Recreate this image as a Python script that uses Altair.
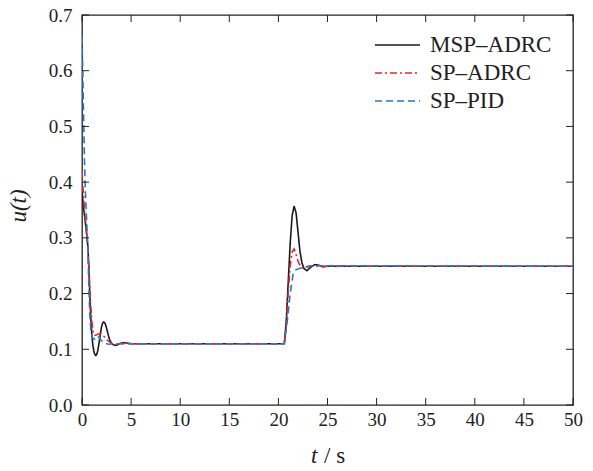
import altair as alt
import pandas as pd

# ---------------- data ----------------
methods = ["MSP–ADRC", "SP–ADRC", "SP–PID"]

t_msp = [0, 0.15, 0.3, 0.45, 0.6, 0.7, 0.8, 0.9, 1.0, 1.1, 1.2, 1.3, 1.4, 1.5, 1.6, 1.7,
         1.8, 1.9, 2.0, 2.1, 2.2, 2.3, 2.4, 2.5, 2.6, 2.7, 2.8, 3.0, 3.2, 3.4, 3.6, 3.8,
         4.0, 4.3, 4.6, 5.0, 5.5, 20.6, 20.8, 21.0, 21.2, 21.4, 21.6, 21.8, 22.0, 22.2,
         22.4, 22.6, 22.9, 23.2, 23.7, 24.1, 24.5, 25.0, 50]
u_msp = [0.385, 0.355, 0.335, 0.31, 0.285, 0.245, 0.195, 0.155, 0.127, 0.108, 0.097, 0.091,
         0.089, 0.091, 0.097, 0.107, 0.119, 0.131, 0.141, 0.147, 0.149, 0.148, 0.144, 0.138,
         0.131, 0.124, 0.118, 0.111, 0.108, 0.107, 0.108, 0.110, 0.111, 0.112, 0.111, 0.110,
         0.110, 0.110, 0.15, 0.22, 0.29, 0.34, 0.357, 0.345, 0.31, 0.275, 0.255, 0.245,
         0.241, 0.246, 0.252, 0.251, 0.248, 0.249, 0.249]

t_spadrc = [0, 0.1, 0.3, 0.5, 0.7, 0.85, 1.0, 1.15, 1.3, 1.5, 1.8, 2.0, 2.3, 2.6, 3.0, 3.5,
            4.0, 4.5, 5.0, 20.6, 20.8, 21.0, 21.2, 21.4, 21.6, 21.8, 22.0, 22.3, 22.6, 23.0,
            23.5, 24.0, 50]
u_spadrc = [0.42, 0.39, 0.34, 0.305, 0.25, 0.19, 0.15, 0.13, 0.125, 0.126, 0.128, 0.127,
            0.122, 0.116, 0.111, 0.109, 0.110, 0.111, 0.110, 0.110, 0.14, 0.20, 0.25, 0.275,
            0.28, 0.27, 0.258, 0.247, 0.245, 0.248, 0.250, 0.249, 0.249]

t_sppid = [0, 0.08, 0.15, 0.25, 0.35, 0.5, 0.6, 0.7, 0.8, 0.9, 1.0, 1.1, 1.3, 1.5, 1.7,
           2.0, 2.3, 2.7, 3.2, 4.0, 20.6, 20.9, 21.2, 21.5, 21.8, 22.3, 22.8, 23.3, 50]
u_sppid = [0.66, 0.60, 0.53, 0.44, 0.38, 0.32, 0.28, 0.21, 0.16, 0.135, 0.125, 0.12, 0.118,
           0.123, 0.122, 0.115, 0.111, 0.109, 0.110, 0.110, 0.110, 0.15, 0.20, 0.235, 0.243,
           0.246, 0.248, 0.250, 0.249]

x_ticks = [0, 5, 10, 15, 20, 25, 30, 35, 40, 45, 50]
y_ticks = [0.0, 0.1, 0.2, 0.3, 0.4, 0.5, 0.6, 0.7]

colors = ["#1a1a1a", "#e8262a", "#2679c2"]
dashes = [[1, 0], [7, 3, 2, 3], [7, 4]]

# ---------------- build table ----------------
rows = []
for m, ts, us in zip(methods, [t_msp, t_spadrc, t_sppid], [u_msp, u_spadrc, u_sppid]):
    for t, u in zip(ts, us):
        rows.append({"t": t, "u": u, "method": m})
df = pd.DataFrame(rows)

W, H = 491, 390
FONT = "Liberation Serif"
x_scale = alt.Scale(domain=[0, 50], nice=False, zero=False)
y_scale = alt.Scale(domain=[0, 0.7], nice=False)

x_axis = alt.Axis(values=x_ticks, title=None, tickSize=0, domain=False, grid=False,
                  labelFont=FONT, labelFontSize=19, labelColor="#222",
                  labelPadding=5, labelFlush=False)
y_axis = alt.Axis(values=y_ticks, format=".1f", title=None, tickSize=0, domain=False,
                  grid=False, labelFont=FONT, labelFontSize=19, labelColor="#222",
                  labelPadding=10)

leg = alt.Legend(
    title=None, orient="none", legendX=292, legendY=16, padding=0,
    labelFont=FONT, labelFontSize=23, labelColor="#222", labelOffset=9,
    symbolType="stroke", symbolSize=2025, symbolStrokeWidth=1.6,
    clipHeight=28, rowPadding=0,
)

lines = alt.Chart(df).mark_line(strokeWidth=1.6, clip=True).encode(
    x=alt.X("t:Q", scale=x_scale, axis=x_axis),
    y=alt.Y("u:Q", scale=y_scale, axis=y_axis),
    color=alt.Color("method:N", scale=alt.Scale(domain=methods, range=colors), legend=leg),
    strokeDash=alt.StrokeDash("method:N", scale=alt.Scale(domain=methods, range=dashes), legend=leg),
)

xt = pd.DataFrame({"t": x_ticks})
yt = pd.DataFrame({"u": y_ticks})
tick_col = "#222"
bottom_ticks = alt.Chart(xt).mark_rule(color=tick_col, strokeWidth=1).encode(
    x=alt.X("t:Q", scale=x_scale, axis=x_axis), y=alt.value(H), y2=alt.value(H - 7))
top_ticks = alt.Chart(xt).mark_rule(color=tick_col, strokeWidth=1).encode(
    x=alt.X("t:Q", scale=x_scale, axis=x_axis), y=alt.value(0), y2=alt.value(7))
left_ticks = alt.Chart(yt).mark_rule(color=tick_col, strokeWidth=1).encode(
    y=alt.Y("u:Q", scale=y_scale, axis=y_axis), x=alt.value(0), x2=alt.value(7))
right_ticks = alt.Chart(yt).mark_rule(color=tick_col, strokeWidth=1).encode(
    y=alt.Y("u:Q", scale=y_scale, axis=y_axis), x=alt.value(W), x2=alt.value(W - 7))

one = pd.DataFrame({"a": [0]})
xt1 = alt.Chart(one).mark_text(text="t", font=FONT, fontSize=23, fontStyle="italic",
                               align="left", baseline="alphabetic", color="#222").encode(
    x=alt.value(229), y=alt.value(448))
xt2 = alt.Chart(one).mark_text(text="/ s", font=FONT, fontSize=23,
                               align="left", baseline="alphabetic", color="#222").encode(
    x=alt.value(242), y=alt.value(448))
yt1 = alt.Chart(one).mark_text(text="u(t)", font=FONT, fontSize=23, fontStyle="italic",
                               align="center", baseline="alphabetic", angle=270,
                               color="#222").encode(
    x=alt.value(-56), y=alt.value(191))

chart = alt.layer(
    lines, bottom_ticks, top_ticks, left_ticks, right_ticks, xt1, xt2, yt1
).properties(
    width=W, height=H,
    autosize=alt.AutoSizeParams(type="none"),
    padding={"left": 82, "top": 15, "right": 20, "bottom": 66},
    background="white",
).configure_view(stroke="#222", strokeWidth=1.3)

chart.save("out.html", embed_options={"renderer": "svg", "actions": False})
